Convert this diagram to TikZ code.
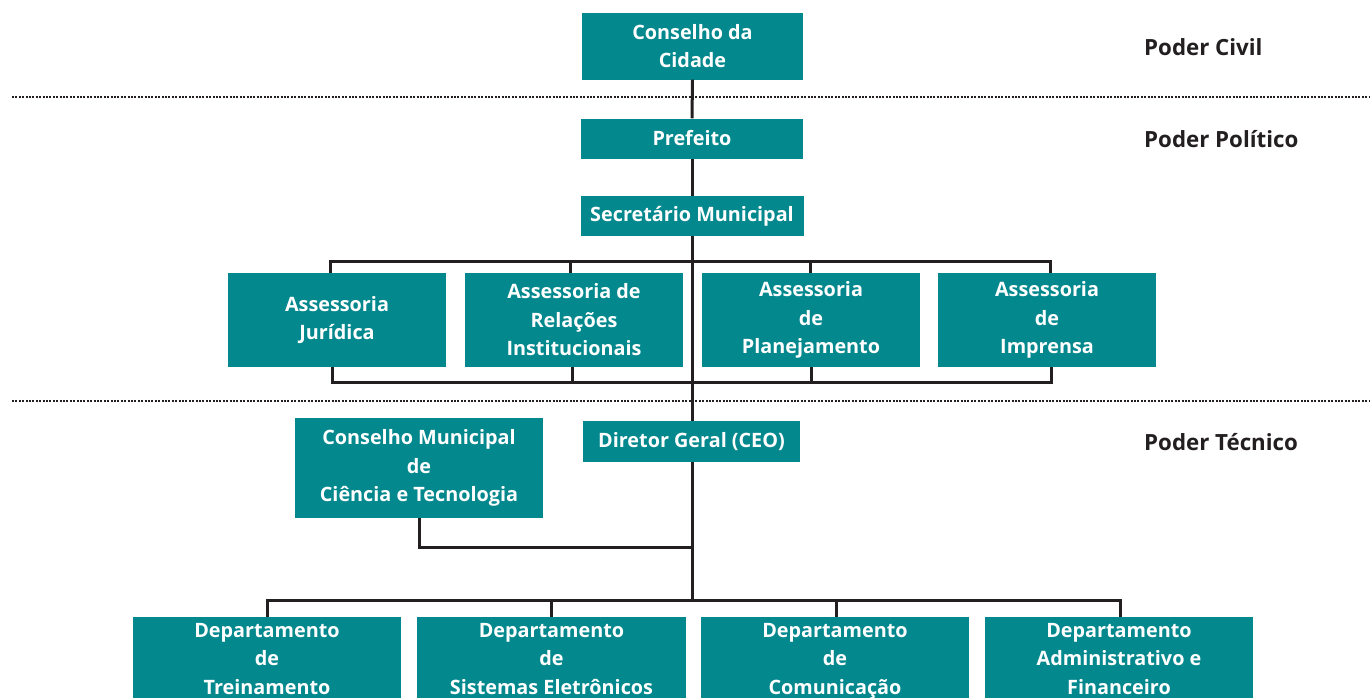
\documentclass[tikz,border=0pt]{standalone}
\usepackage{fontspec}
\setmainfont{Open Sans}
\begin{document}
\begin{tikzpicture}[x=1pt,y=-1pt,
  box/.style={fill=teal0, draw=none, text=white, font=\bfseries\fontsize{19.8}{28.5}\selectfont,
    align=center, inner sep=0pt},
  conn/.style={draw=ink, line width=3pt},
  sep/.style={draw=ink, line width=2.2pt, dash pattern=on 2pt off 1.4pt},
  tier/.style={text=ink, font=\bfseries\fontsize{22.3}{26}\selectfont, anchor=west, inner sep=0pt}]
\definecolor{teal0}{RGB}{3,136,141}
\definecolor{ink}{RGB}{35,31,32}
\useasboundingbox (0,0) rectangle (1370,697);
\clip (0,0) rectangle (1370,697);

% tier separators
\coordinate (s1a) at (12,97);  \coordinate (s1b) at (1370,97);
\coordinate (s2a) at (12,401); \coordinate (s2b) at (1370,401);
\draw[sep] (s1a) -- (s1b);
\draw[sep] (s2a) -- (s2b);

% tier labels
\node[tier] (tc) at (1144,47)  {Poder Civil};
\node[tier] (tp) at (1144,139) {Poder Político};
\node[tier] (tt) at (1144,442) {Poder Técnico};

% top of the hierarchy
\node[box, minimum width=221, minimum height=67] (cc)   at (692.5,46) {Conselho da\\Cidade};
\node[box, minimum width=222, minimum height=40] (pref) at (692,138.5)  {Prefeito};
\node[box, minimum width=223, minimum height=40] (sec)  at (692,216)    {Secretário Municipal};

% advisory units
\node[box, minimum width=218, minimum height=94] (aj) at (337,320) {Assessoria\\Jurídica};
\node[box, minimum width=218, minimum height=94] (ar) at (574,320) {Assessoria de\\Relações\\Institucionais};
\node[box, minimum width=218, minimum height=94] (ap) at (811,320) {Assessoria\\de\\Planejamento};
\node[box, minimum width=218, minimum height=94] (ai) at (1047,320) {Assessoria\\de\\Imprensa};

% technical level
\node[box, minimum width=248, minimum height=100] (cm) at (419,468) {Conselho Municipal\\de\\Ciência e Tecnologia};
\node[box, minimum width=217, minimum height=41]  (dg) at (691.5,441.5) {Diretor Geral (CEO)};

% departments
\node[box, anchor=north, minimum width=268, inner ysep=6pt] (d1) at (267,617) {Departamento\\de\\Treinamento};
\node[box, anchor=north, minimum width=269, inner ysep=6pt] (d2) at (551.5,617) {Departamento\\de\\Sistemas Eletrônicos};
\node[box, anchor=north, minimum width=268, inner ysep=6pt] (d3) at (835,617) {Departamento\\de\\Comunicação};
\node[box, anchor=north, minimum width=268, inner ysep=6pt] (d4) at (1119,617) {Departamento\\Administrativo e\\Financeiro};

% bus end points
\coordinate (tbR) at (1050,261);
\coordinate (bbR) at (1051,382);
\coordinate (cmj) at (692,547);
\coordinate (dbR) at (1120,600);
\coordinate (dbt) at (692,600);

% main trunk
\draw[conn] (cc.south) -- (pref.north);
\draw[conn] (pref.south) -- (sec.north);
\draw[conn] (sec.south) -- (dg.north -| sec.south);
\draw[conn] (dg.south -| sec.south) -- (dbt);

% advisory buses
\draw[conn] ([xshift=-7pt]aj.north) |- (tbR) -- ([xshift=3pt]ai.north);
\draw[conn] ([xshift=-4pt]ar.north) -- ++(0,-12);
\draw[conn] ([xshift=-1pt]ap.north) -- ++(0,-12);
\draw[conn] ([xshift=-5pt]aj.south) |- (bbR) -- ([xshift=4pt]ai.south);
\draw[conn] ([xshift=-2pt]ar.south) -- ++(0,15);
\draw[conn] ([xshift=0pt]ap.south) -- ++(0,15);

% council link
\draw[conn] (cm.south) |- (cmj);

% department bus
\draw[conn] (d1.north) |- (dbR) -- ([xshift=1pt]d4.north);
\draw[conn] (d2.north) -- ++(0,-17);
\draw[conn] ([xshift=1pt]d3.north) -- ++(0,-17);
\end{tikzpicture}
\end{document}
